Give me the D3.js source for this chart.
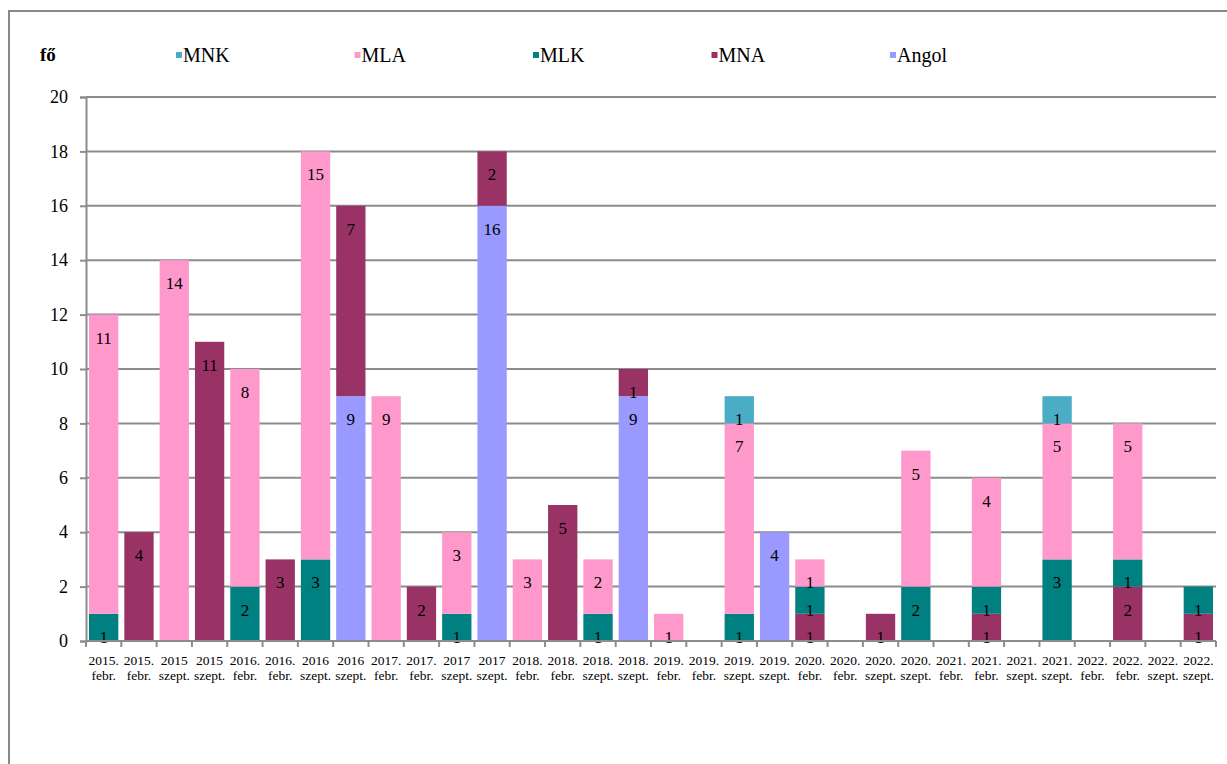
<!DOCTYPE html>
<html>
<head>
<meta charset="utf-8">
<script src="https://cdn.jsdelivr.net/npm/d3@7"></script>
<style>
  body { margin: 0; background: #fff; }
  svg text { font-family: 'Times New Roman', 'Liberation Serif', serif !important; }
</style>
</head>
<body>
<div id="chart"></div>
<script>
// category labels (two lines each)
var years = ["2015.", "2015.", "2015", "2015", "2016.", "2016.", "2016", "2016",
  "2017.", "2017.", "2017", "2017", "2018.", "2018.", "2018.", "2018.",
  "2019.", "2019.", "2019.", "2019.", "2020.", "2020.", "2020.", "2020.",
  "2021.", "2021.", "2021.", "2021.", "2022.", "2022.", "2022.", "2022."];
var terms = ["febr.", "febr.", "szept.", "szept.", "febr.", "febr.", "szept.", "szept.",
  "febr.", "febr.", "szept.", "szept.", "febr.", "febr.", "szept.", "szept.",
  "febr.", "febr.", "szept.", "szept.", "febr.", "febr.", "szept.", "szept.",
  "febr.", "febr.", "szept.", "szept.", "febr.", "febr.", "szept.", "szept."];

// series values
var MNK   = [0,0,0,0,0,0,0,0, 0,0,0,0,0,0,0,0, 0,0,1,0,0,0,0,0, 0,0,0,1,0,0,0,0];
var MLA   = [11,0,14,0,8,0,15,0, 9,0,3,0,3,0,2,0, 1,0,7,0,1,0,0,5, 0,4,0,5,0,5,0,0];
var MLK   = [1,0,0,0,2,0,3,0, 0,0,1,0,0,0,1,0, 0,0,1,0,1,0,0,2, 0,1,0,3,0,1,0,1];
var MNA   = [0,4,0,11,0,3,0,7, 0,2,0,2,0,5,0,1, 0,0,0,0,1,0,1,0, 0,1,0,0,0,2,0,1];
var Angol = [0,0,0,0,0,0,0,9, 0,0,0,16,0,0,0,9, 0,0,0,4,0,0,0,0, 0,0,0,0,0,0,0,0];

var yTicks = [0, 2, 4, 6, 8, 10, 12, 14, 16, 18, 20];

var series = { MNK: MNK, MLA: MLA, MLK: MLK, MNA: MNA, Angol: Angol };
var stackOrder = ["Angol", "MNA", "MLK", "MLA", "MNK"];
var legendOrder = ["MNK", "MLA", "MLK", "MNA", "Angol"];
var colors = { MNK: "#4bacc6", MLA: "#ff99cc", MLK: "#008080", MNA: "#993366", Angol: "#9999ff" };

var width = 1227, height = 764;
var margin = { top: 97, left: 86, right: 11, bottom: 123 };

var svg = d3.select("#chart").append("svg")
    .attr("width", width)
    .attr("height", height)
    .style("display", "block");

// outer frame
svg.append("rect")
    .attr("x", 9).attr("y", 11)
    .attr("width", width + 20).attr("height", height + 20)
    .attr("fill", "none")
    .attr("stroke", "#888").attr("stroke-width", 2);

var table = years.map(function(y, i) {
  var row = { i: i };
  stackOrder.forEach(function(k) { row[k] = series[k][i]; });
  return row;
});

var x = d3.scaleBand()
    .domain(d3.range(years.length))
    .range([margin.left, width - margin.right])
    .paddingInner(0.17)
    .paddingOuter(0.085);

var y = d3.scaleLinear()
    .domain([0, 20])
    .range([height - margin.bottom, margin.top]);

// gridlines
svg.append("g").selectAll("line")
  .data(yTicks.slice(1))
  .join("line")
    .attr("x1", margin.left).attr("x2", width - margin.right)
    .attr("y1", function(d) { return y(d); })
    .attr("y2", function(d) { return y(d); })
    .attr("stroke", "#8c8c8c").attr("stroke-width", 2);

var layers = d3.stack().keys(stackOrder)(table);

var g = svg.append("g");
layers.forEach(function(layer) {
  g.append("g").selectAll("rect")
    .data(layer.filter(function(d) { return d[1] - d[0] > 0; }))
    .join("rect")
      .attr("x", function(d) { return x(d.data.i); })
      .attr("width", x.bandwidth())
      .attr("y", function(d) { return y(d[1]); })
      .attr("height", function(d) { return y(d[0]) - y(d[1]); })
      .attr("fill", colors[layer.key]);
});
// value labels, drawn after all bars
layers.forEach(function(layer) {
  g.append("g").selectAll("text")
    .data(layer.filter(function(d) { return d[1] - d[0] > 0; }))
    .join("text")
      .attr("x", function(d) { return x(d.data.i) + x.bandwidth() / 2; })
      .attr("y", function(d) { return y(d[1]) + 23; })
      .attr("dy", "0.35em")
      .attr("text-anchor", "middle")
      .style("font-size", "17px")
      .attr("fill", "#000")
      .text(function(d) { return d[1] - d[0]; });
});

// y axis
var yAxis = svg.append("g")
    .attr("transform", "translate(" + margin.left + ",0)")
    .call(d3.axisLeft(y).tickValues(yTicks).tickSize(6).tickPadding(12));
yAxis.select(".domain").attr("stroke", "#8c8c8c").attr("stroke-width", 2);
yAxis.selectAll(".tick line").attr("stroke", "#8c8c8c").attr("stroke-width", 2);
yAxis.selectAll(".tick text")
    .style("font-size", "18px").attr("fill", "#000");

// x axis
var xAxis = svg.append("g")
    .attr("transform", "translate(0," + y(0) + ")");
xAxis.append("line")
    .attr("x1", margin.left).attr("x2", width - margin.right)
    .attr("stroke", "#8c8c8c").attr("stroke-width", 2);
xAxis.selectAll("line.tk")
  .data(d3.range(years.length + 1))
  .join("line")
    .attr("class", "tk")
    .attr("x1", function(i) { return margin.left + i * x.step(); })
    .attr("x2", function(i) { return margin.left + i * x.step(); })
    .attr("y1", 0).attr("y2", 6)
    .attr("stroke", "#8c8c8c").attr("stroke-width", 2);
var xl = xAxis.selectAll("text")
  .data(d3.range(years.length))
  .join("text")
    .attr("text-anchor", "middle")
    .style("font-size", "13.5px")
    .attr("fill", "#000");
xl.append("tspan")
    .attr("x", function(i) { return x(i) + x.bandwidth() / 2; })
    .attr("y", 24)
    .text(function(i) { return years[i]; });
xl.append("tspan")
    .attr("x", function(i) { return x(i) + x.bandwidth() / 2; })
    .attr("y", 39)
    .text(function(i) { return terms[i]; });

// unit label
svg.append("text")
    .attr("x", 40).attr("y", 61)
    .style("font-size", "19px").style("font-weight", "bold")
    .text("fő");

// legend
var leg = svg.append("g").selectAll("g")
  .data(legendOrder)
  .join("g")
    .attr("transform", function(d, i) { return "translate(" + (176 + i * 178.5) + ",55)"; });
leg.append("rect")
    .attr("x", 0).attr("y", -3)
    .attr("width", 6).attr("height", 6)
    .attr("fill", function(d) { return colors[d]; });
leg.append("text")
    .attr("x", 7).attr("y", 0).attr("dy", "0.35em")
    .style("font-size", "20px")
    .text(function(d) { return d; });
</script>
</body>
</html>
